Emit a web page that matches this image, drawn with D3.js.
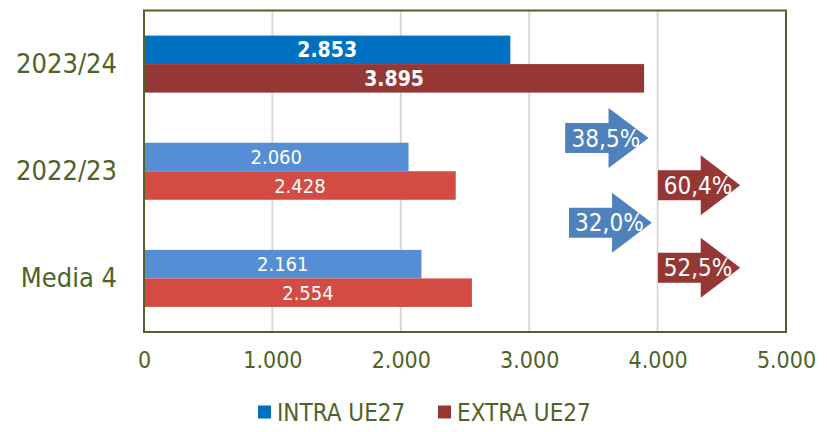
<!DOCTYPE html>
<html><head><meta charset="utf-8">
<script src="https://cdn.jsdelivr.net/npm/d3@7"></script>
<style>
html,body{margin:0;padding:0;background:#fff;}
svg{display:block;font-family:"DejaVu Sans Condensed","DejaVu Sans",sans-serif;}
</style></head>
<body>
<script>
// ---- data ----
const categories = ["2023/24", "2022/23", "Media 4"];
const seriesNames = ["INTRA UE27", "EXTRA UE27"];
const intraValues = [2853, 2060, 2161];
const extraValues = [3895, 2428, 2554];
const xTickValues = [0, 1000, 2000, 3000, 4000, 5000];
const intraGrowth = ["38,5%", "32,0%"];
const extraGrowth = ["60,4%", "52,5%"];

// ---- styles ----
const intraColors = ["#0070C0", "#558ED5", "#558ED5"];
const extraColors = ["#953735", "#D34C44", "#D34C44"];
const textColor = "#4F6228";
const gridColor = "#D9D9D9";
const arrowIntra = "#4F81BD";
const arrowExtra = "#953735";

const W = 827, H = 432;
const svg = d3.select("body").append("svg").attr("width", W).attr("height", H);

const x = d3.scaleLinear().domain([0, 5000]).range([144, 786]);
const y = d3.scaleBand().domain(categories).range([10.5, 332]).paddingInner(0.468).paddingOuter(0.234);
const ySub = d3.scaleBand().domain(seriesNames).range([0, y.bandwidth()]);
// continuous y for annotation placement (category units)
const yc = d3.scaleLinear().domain([0, 3]).range([10.5, 332]);

// gridlines
svg.append("g").selectAll("line").data(xTickValues.filter(d => d > 0 && d < 5000)).join("line")
  .attr("x1", d => x(d)).attr("x2", d => x(d))
  .attr("y1", 10.5).attr("y2", 332)
  .attr("stroke", gridColor).attr("stroke-width", 2);

// bars
const rows = categories.map((c, i) => ({c, i, vals: [intraValues[i], extraValues[i]]}));
const g = svg.append("g");
rows.forEach(r => {
  r.vals.forEach((v, s) => {
    const yy = y(r.c) + ySub(seriesNames[s]);
    g.append("rect")
      .attr("x", x(0)).attr("y", yy)
      .attr("width", x(v) - x(0)).attr("height", ySub.bandwidth())
      .attr("fill", s === 0 ? intraColors[r.i] : extraColors[r.i]);
    g.append("text")
      .attr("x", (x(0) + x(v)) / 2).attr("y", yy + ySub.bandwidth() / 2)
      .attr("dy", "0.36em").attr("text-anchor", "middle")
      .attr("fill", "#fff")
      .attr("font-size", r.i === 0 ? 21 : 20)
      .attr("font-weight", r.i === 0 ? "bold" : "normal")
      .text(d3.format(",")(v).replace(/,/g, "."));
  });
});

// frame
svg.append("rect").attr("x", 144).attr("y", 10.5).attr("width", 642).attr("height", 321.5)
  .attr("fill", "none").attr("stroke", textColor).attr("stroke-width", 2);

// x axis labels
const xAxis = d3.axisBottom(x).tickValues(xTickValues).tickSize(0).tickPadding(0)
  .tickFormat(d => d3.format(",")(d).replace(/,/g, "."));
const xg = svg.append("g").attr("transform", "translate(0,352)").call(xAxis);
xg.select(".domain").remove();
xg.selectAll("text").attr("font-size", 23).attr("fill", textColor)
  .attr("font-family", "DejaVu Sans Condensed, DejaVu Sans, sans-serif");

// y axis labels
const yAxis = d3.axisLeft(y).tickSize(0).tickPadding(0);
const yg = svg.append("g").attr("transform", "translate(117,0)").call(yAxis);
yg.select(".domain").remove();
yg.selectAll("text").attr("font-size", 27).attr("fill", textColor)
  .attr("font-family", "DejaVu Sans Condensed, DejaVu Sans, sans-serif");

// arrows (annotations)
function arrowPath(x0, x1, cy) {
  const len = x1 - x0, headL = len * 0.48, bh = 15, hh = 30;
  const xb = x1 - headL;
  return `M${x0},${cy - bh}L${xb},${cy - bh}L${xb},${cy - hh}L${x1},${cy}L${xb},${cy + hh}L${xb},${cy + bh}L${x0},${cy + bh}Z`;
}
const arrows = [
  {label: intraGrowth[0], x0: 3280, x1: 3930, yv: 1.19, color: arrowIntra},
  {label: intraGrowth[1], x0: 3310, x1: 3955, yv: 1.98, color: arrowIntra},
  {label: extraGrowth[0], x0: 4003, x1: 4643, yv: 1.63, color: arrowExtra},
  {label: extraGrowth[1], x0: 4003, x1: 4643, yv: 2.40, color: arrowExtra}
];
const ag = svg.append("g");
arrows.forEach(a => {
  const cy = yc(a.yv);
  ag.append("path").attr("d", arrowPath(x(a.x0), x(a.x1), cy)).attr("fill", a.color);
  ag.append("text").attr("x", (x(a.x0) + x(a.x1)) / 2 - 1).attr("y", cy)
    .attr("dy", "0.36em").attr("text-anchor", "middle")
    .attr("fill", "#fff").attr("font-size", 24).text(a.label);
});

// legend
const lg = svg.append("g").attr("transform", "translate(0,412)");
const legendX = [258, 438];
seriesNames.forEach((n, i) => {
  lg.append("rect").attr("x", legendX[i]).attr("y", -6.5).attr("width", 13).attr("height", 13)
    .attr("fill", i === 0 ? intraColors[0] : extraColors[0]);
  lg.append("text").attr("x", legendX[i] + 19).attr("y", 0).attr("dy", "0.36em")
    .attr("font-size", 24).attr("fill", textColor).text(n);
});
</script>
</body></html>
